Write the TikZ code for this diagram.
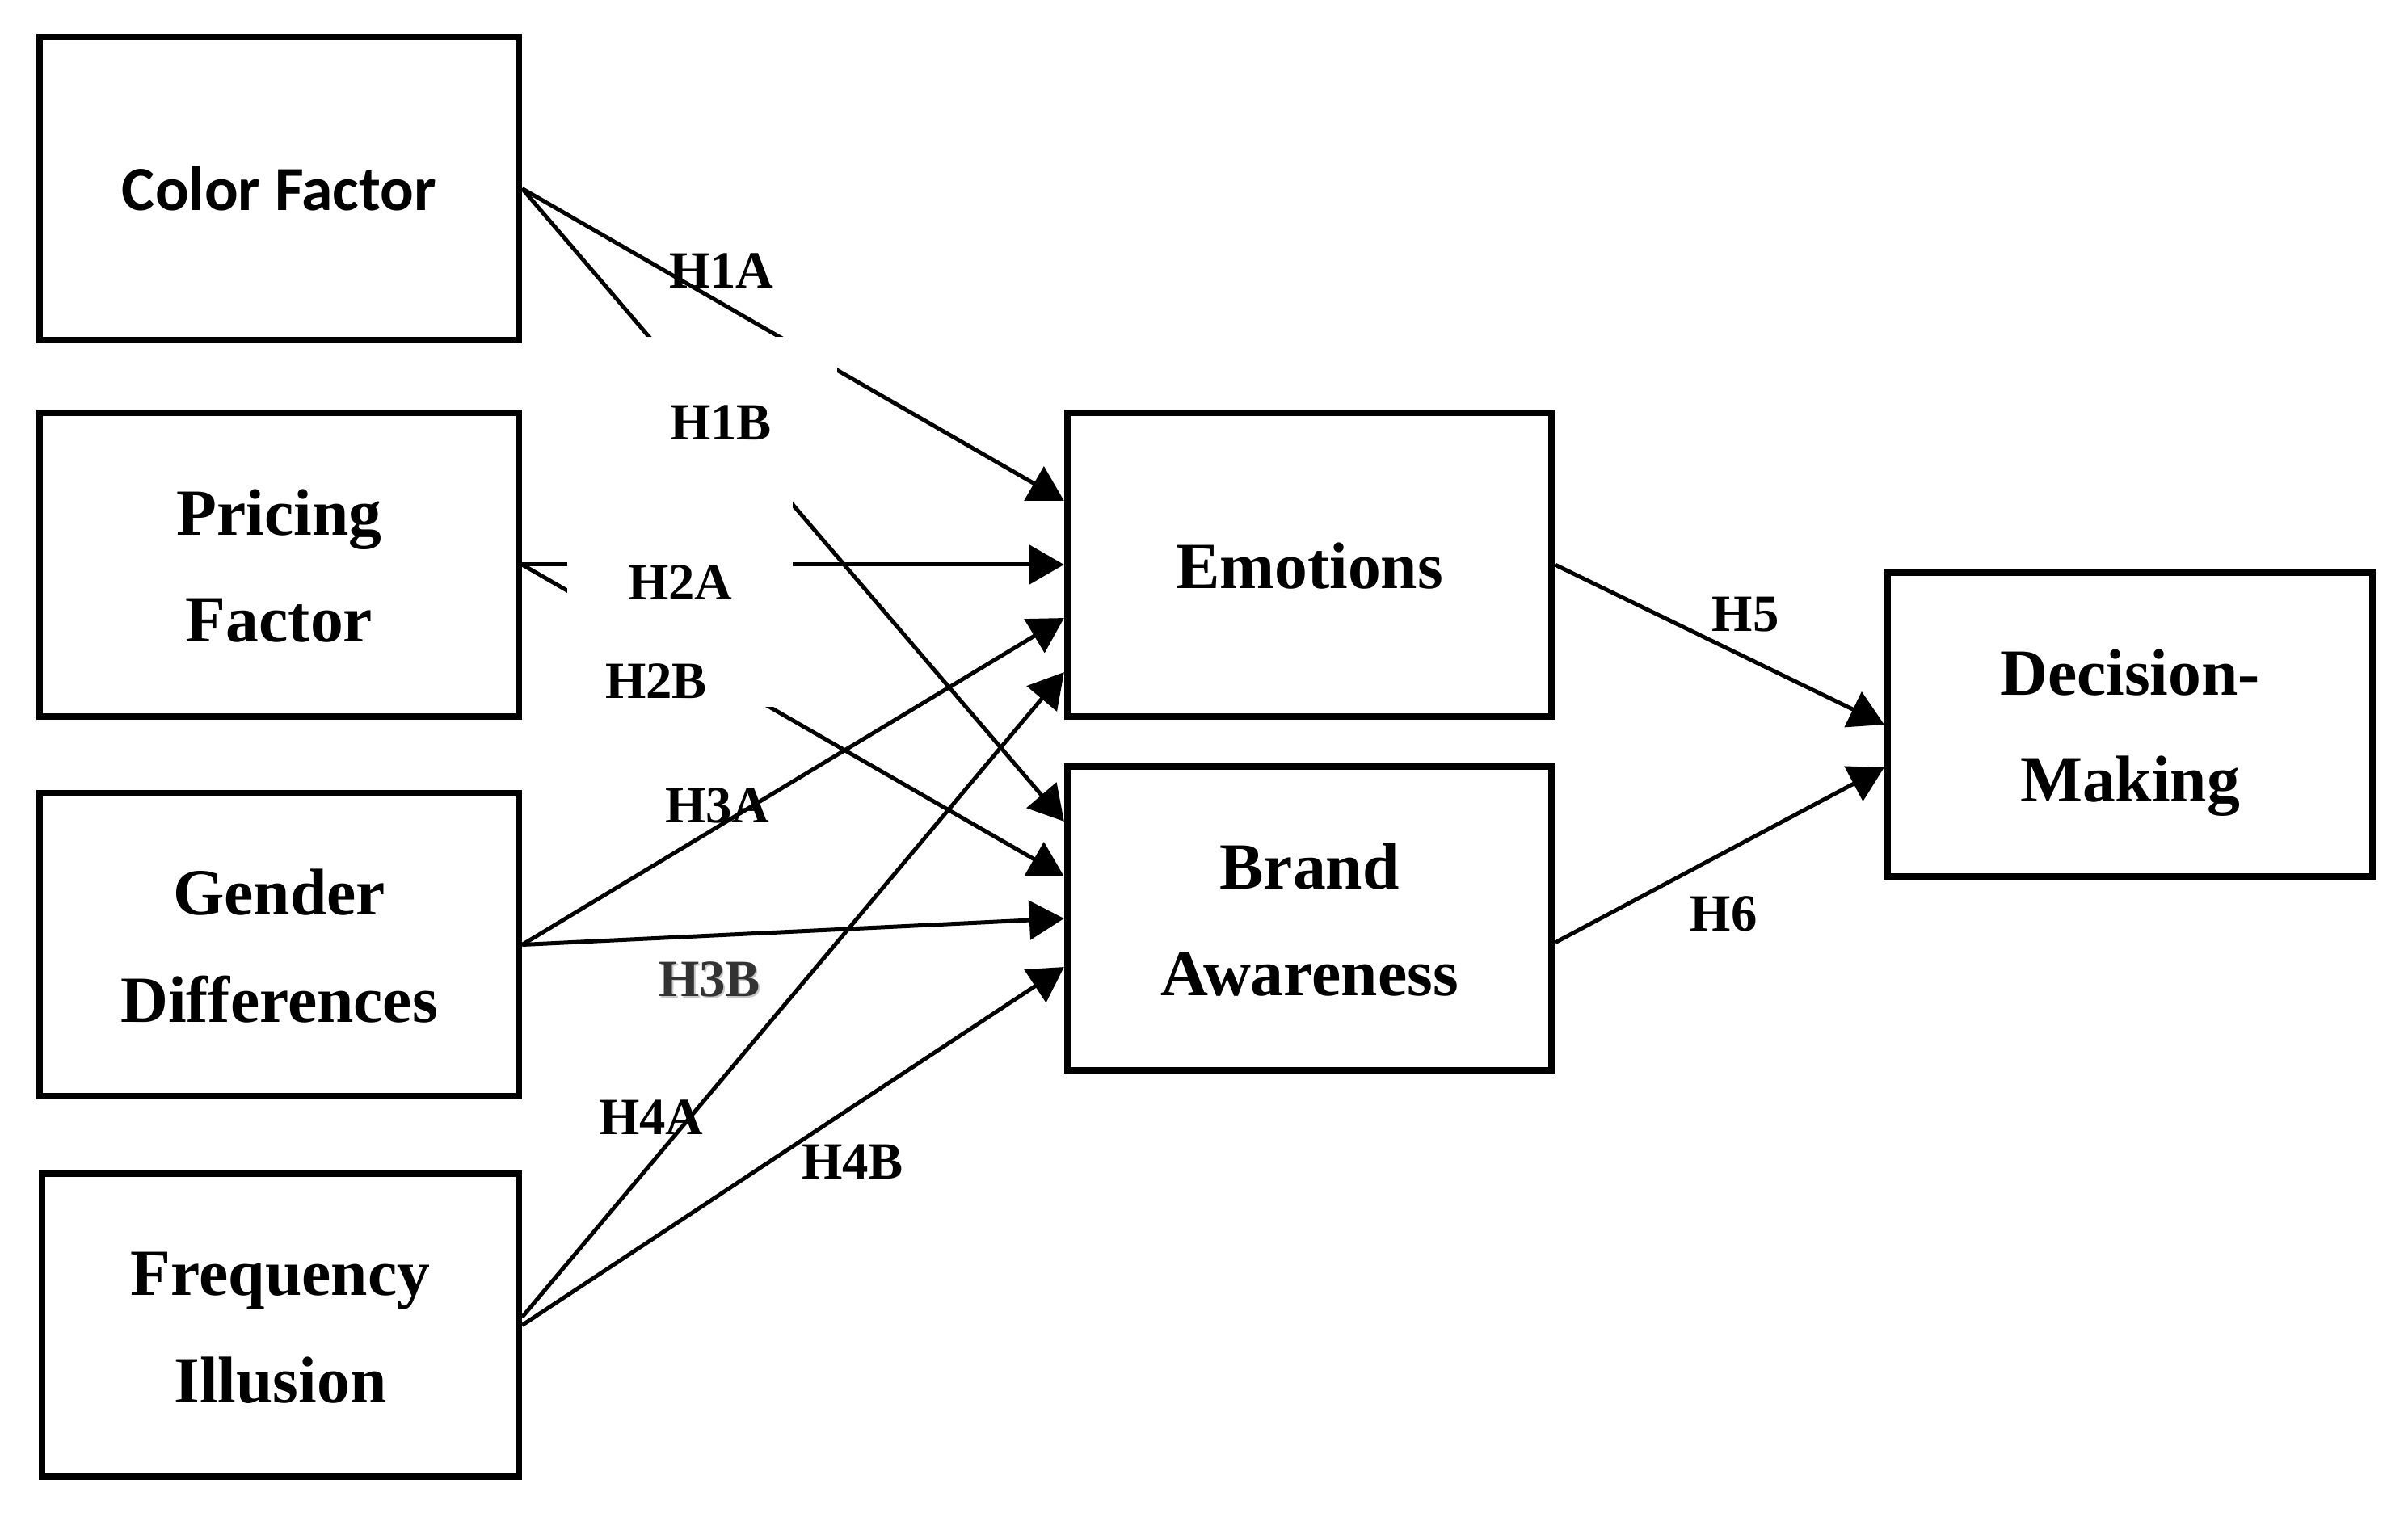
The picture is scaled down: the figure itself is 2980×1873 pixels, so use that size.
\documentclass[tikz,border=0pt]{standalone}
\usepackage{fontspec}
\setmainfont{Liberation Serif}
\newfontfamily\calib{Carlito}
\usetikzlibrary{arrows.meta}
\newcommand\bstrut{\rule[-0.26cm]{0pt}{1.11cm}}
\begin{document}
\begin{tikzpicture}[x=0.01cm,y=-0.01cm,
  box/.style={draw, line width=0.08cm, inner sep=0pt, minimum width=5.93cm, minimum height=3.75cm, align=center, font=\bfseries\fontsize{23.2pt}{37.7pt}\selectfont},
  conn/.style={line width=0.05cm, -{Triangle[length=0.43cm,width=0.48cm]}},
  lbl/.style={inner sep=0pt, anchor=base, font=\bfseries\fontsize{18.4pt}{22pt}\selectfont},
  mask/.style={fill=white}]
\useasboundingbox (0,0) rectangle (2980,1873);
% boxes
\node[box] (cf) at (345.5,233.5) {\calib\fontsize{22.1pt}{26pt}\selectfont Color Factor};
\node[box] (pf) at (345.5,699) {\bstrut Pricing\\\bstrut Factor};
\node[box] (gd) at (345.5,1169.5) {\bstrut Gender\\\bstrut Differences};
\node[box, minimum width=5.9cm] (fi) at (347,1640.5) {\bstrut Frequency\\\bstrut Illusion};
\node[box, minimum width=5.99cm] (em) at (1620.5,699) {\bstrut Emotions};
\node[box, minimum width=5.99cm, minimum height=3.76cm] (ba) at (1620.5,1137) {\bstrut Brand\\\bstrut Awareness};
\node[box, minimum width=6.0cm, minimum height=3.76cm] (dm) at (2636,897) {\bstrut Decision-\\\bstrut Making};
% connectors
\draw[conn] (cf.east) -- ([yshift=0.79cm]em.west);
\draw[conn] (cf.east) -- ([yshift=1.20cm]ba.west);
\draw[conn] (pf.east) -- (em.west);
\draw[conn] (pf.east) -- ([yshift=0.52cm]ba.west);
\draw[conn] (gd.east) -- ([yshift=-0.66cm]em.west);
\draw[conn] (gd.east) -- (ba.west);
\draw[conn] ([yshift=0.1cm]fi.east) -- ([yshift=-1.33cm]em.west);
\draw[conn] (fi.east) -- ([yshift=-0.60cm]ba.west);
\draw[conn] (em.east) -- (dm.west);
\draw[conn] ([yshift=-0.30cm]ba.east) -- ([yshift=-0.53cm]dm.west);
% white label boxes hiding parts of the connectors
\path[mask] (700,417) rectangle (1036,560);
\path[mask] (702,540) rectangle (981,875);
% labels
\node[lbl] (h1a) at (893,357) {H1A};
\node[lbl] (h1b) at (892,545) {H1B};
\node[lbl] (h2a) at (842,743) {H2A};
\node[lbl] (h2b) at (812,865) {H2B};
\node[lbl] (h3a) at (888,1018) {H3A};
\node[lbl, text=black!22] (h3bs) at (880,1235) {H3B};
\node[lbl, text=black!80] (h3b) at (878,1233) {H3B};
\node[lbl] (h4a) at (806,1404) {H4A};
\node[lbl] (h4b) at (1055,1459) {H4B};
\node[lbl] (h5) at (2160,782) {H5};
\node[lbl] (h6) at (2133,1152) {H6};
\end{tikzpicture}
\end{document}
